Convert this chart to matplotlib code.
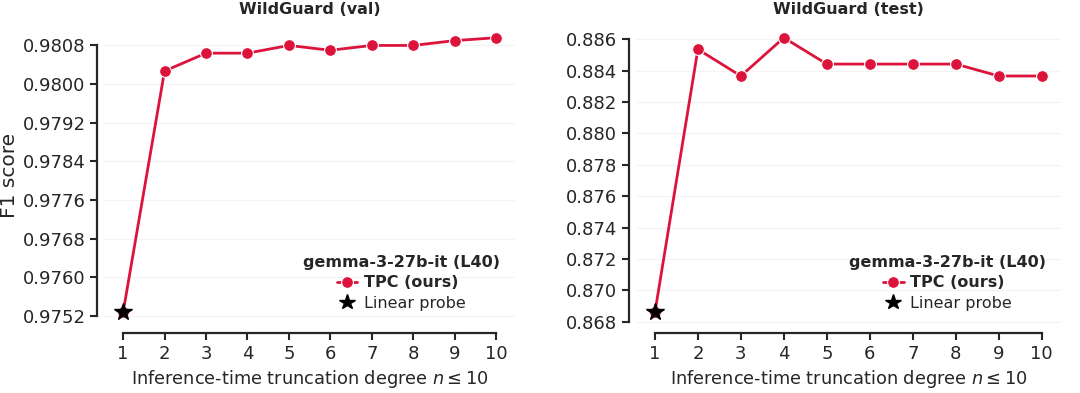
import matplotlib
matplotlib.use("Agg")
import matplotlib.pyplot as plt
import numpy as np
import seaborn as sns
from matplotlib.lines import Line2D

sns.set_style("ticks")
plt.rcParams['font.family'] = ['DejaVu Sans']

degrees = [1, 2, 3, 4, 5, 6, 7, 8, 9, 10]
val_f1 = [0.97527, 0.98027, 0.98064, 0.98064, 0.98080, 0.98070, 0.98080, 0.98080, 0.98090, 0.98096]
test_f1 = [0.86859, 0.88536, 0.88366, 0.88610, 0.88442, 0.88442, 0.88442, 0.88442, 0.88366, 0.88366]
titles = ["WildGuard (val)", "WildGuard (test)"]
yticks_list = [np.round(np.arange(0.9752, 0.98081, 0.0008), 4), np.round(np.arange(0.868, 0.88601, 0.002), 3)]
ytick_fmt = ["{:.4f}", "{:.3f}"]
model_name = "gemma-3-27b-it (L40)"
tpc_label = "TPC (ours)"
probe_label = "Linear probe"

red = "#DC143C"
FS = 11.5
TICK_FS = 13
dark = '#262626'

fig = plt.figure(figsize=(10.8, 3.93), dpi=100)
ax1 = fig.add_axes([0.0967, 0.170, 0.380, 0.769])
ax2 = fig.add_axes([0.5885, 0.170, 0.394, 0.769])

for ax, data, title, yt, fmt in zip([ax1, ax2], [val_f1, test_f1], titles, yticks_list, ytick_fmt):
    ax.plot(degrees, data, color=red, lw=2.0, marker='o', markersize=8.5,
            markeredgecolor='white', markeredgewidth=0.8, zorder=3)
    ax.plot(degrees[0], data[0], marker='*', color='black', markersize=13,
            linestyle='none', zorder=4)
    ax.set_xticks(degrees)
    ax.set_yticks(yt)
    ax.set_yticklabels([fmt.format(v) for v in yt])
    ax.margins(x=0.05, y=0.05)
    ax.grid(axis='y', color='#f3f3f3', lw=0.8)
    ax.set_axisbelow(True)
    ax.tick_params(labelsize=TICK_FS, length=5, width=1.5, colors=dark)
    for s in ax.spines.values():
        s.set_linewidth(1.6)
        s.set_color(dark)
    ax.set_title(title, fontsize=FS, fontweight='bold', pad=7, color=dark)
    ax.set_xlabel(r"Inference-time truncation degree $n \leq 10$", fontsize=12.75, color=dark)
    handles = [
        Line2D([], [], color=red, lw=2.0, marker='o', markersize=8.5,
               markeredgecolor='white', markeredgewidth=0.8),
        Line2D([], [], color='black', marker='*', markersize=11.5, linestyle='none'),
    ]
    leg = ax.legend(handles, [tpc_label, probe_label], title=model_name, loc='lower right',
                    frameon=False, fontsize=FS, title_fontproperties={'weight': 'bold', 'size': FS},
                    handlelength=1.3, handletextpad=0.4, labelspacing=0.35, borderaxespad=0.55)
    leg.get_title().set_color(dark)
    for t in leg.get_texts():
        t.set_color(dark)
    leg.get_texts()[0].set_fontweight('bold')
    sns.despine(ax=ax, offset=5, trim=True)

ax1.set_ylabel("F1 score", fontsize=14.5, color=dark)
ax1.yaxis.set_label_coords(-0.207, 0.5)

fig.savefig("out.png", dpi=100)
